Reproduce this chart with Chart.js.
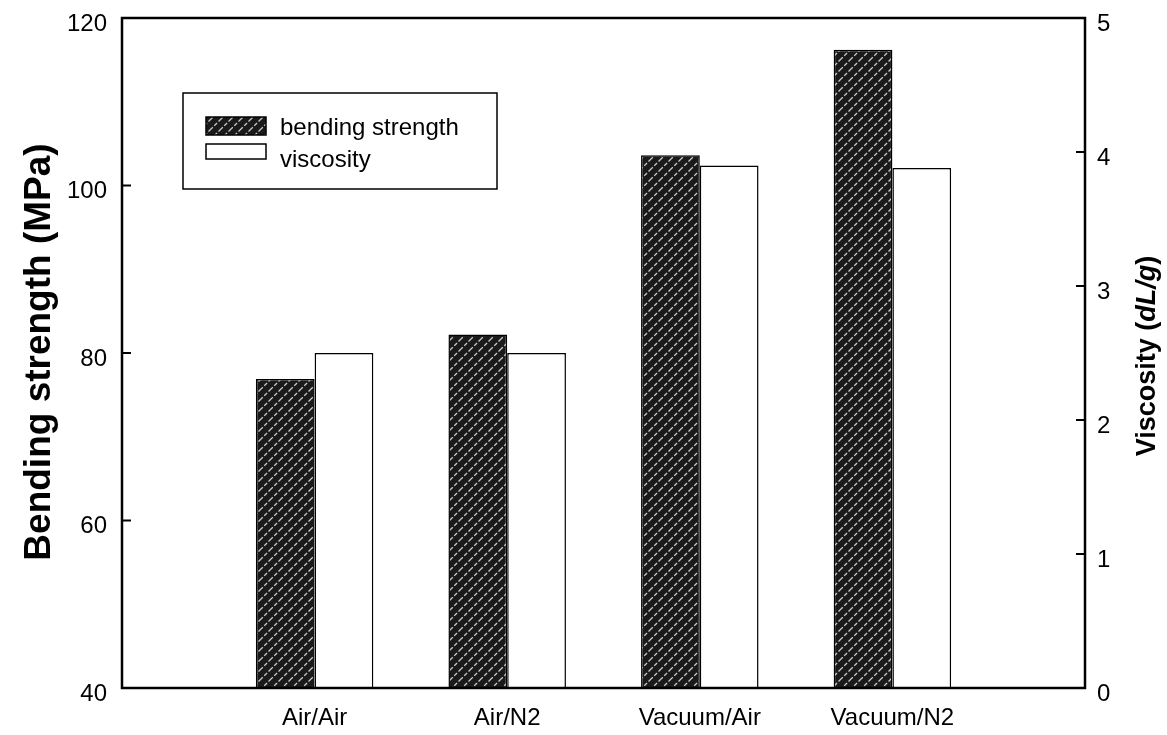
<!DOCTYPE html>
<html>
<head>
<meta charset="utf-8">
<script src="https://cdn.jsdelivr.net/npm/chart.js@4.4.1/dist/chart.umd.min.js"></script>
<style>
  html, body { margin: 0; padding: 0; background: #fff; }
  canvas { display: block; }
</style>
</head>
<body>
<canvas id="chart" width="1167" height="735"></canvas>
<script>
// Drying / annealing atmosphere combinations (empty slots pad both ends of the axis)
const categories = ['', 'Air/Air', 'Air/N2', 'Vacuum/Air', 'Vacuum/N2', ''];
// Bending strength, MPa (left axis)
const bendingStrength = [null, 76.9, 82.2, 103.6, 116.2, null];
// Intrinsic viscosity, dL/g (right axis)
const viscosity = [null, 2.5, 2.5, 3.9, 3.88, null];
// Tick values of both value axes
const strengthTicks = [40, 60, 80, 100, 120];
const viscosityTicks = [0, 1, 2, 3, 4, 5];
const seriesNames = ['bending strength', 'viscosity'];
const leftTitle = 'Bending strength (MPa)';
const rightTitle = ['Viscosity (', 'dL/g', ')'];

const FONT = "'Liberation Sans', Arial, sans-serif";

// Dark fill with light diagonal streaks for the strength bars
function makeHatch() {
  const s = 10;
  const t = document.createElement('canvas');
  t.width = s; t.height = s;
  const g = t.getContext('2d');
  g.fillStyle = '#1a1a1a';
  g.fillRect(0, 0, s, s);
  g.strokeStyle = '#c8c8c8';
  g.lineWidth = 1.3;
  g.setLineDash([4, 2]);
  g.beginPath();
  g.moveTo(0, s); g.lineTo(s, 0);
  g.moveTo(-2, 2); g.lineTo(2, -2);
  g.moveTo(s - 2, s + 2); g.lineTo(s + 2, s - 2);
  g.stroke();
  return g.createPattern(t, 'repeat');
}
const hatch = makeHatch();

// Box frame plus short inward tick marks on both value axes
const framePlugin = {
  id: 'frame',
  afterDatasetsDraw(chart) {
    const { ctx, chartArea: a } = chart;
    ctx.save();
    ctx.strokeStyle = '#000';
    ctx.lineWidth = 2.5;
    ctx.strokeRect(a.left, a.top, a.right - a.left, a.bottom - a.top);
    ctx.lineWidth = 2;
    const yl = chart.scales.y, yr = chart.scales.y1;
    ctx.beginPath();
    yl.ticks.forEach(t => {
      const p = yl.getPixelForValue(t.value);
      ctx.moveTo(a.left, p); ctx.lineTo(a.left + 9, p);
    });
    yr.ticks.forEach(t => {
      const p = yr.getPixelForValue(t.value);
      ctx.moveTo(a.right, p); ctx.lineTo(a.right - 9, p);
    });
    ctx.stroke();
    ctx.restore();
  }
};

// Axis titles (both read bottom-to-top) and the boxed legend
const annotatePlugin = {
  id: 'annotate',
  afterDraw(chart) {
    const { ctx } = chart;
    ctx.save();
    ctx.fillStyle = '#000';
    ctx.textBaseline = 'middle';

    // left title
    ctx.save();
    ctx.translate(40, 352);
    ctx.rotate(-Math.PI / 2);
    ctx.font = 'bold 37px ' + FONT;
    ctx.textAlign = 'center';
    ctx.fillText(leftTitle, 0, 0);
    ctx.restore();

    // right title with italic unit
    ctx.save();
    ctx.translate(1148, 356);
    ctx.rotate(-Math.PI / 2);
    const fonts = ['bold 27px ' + FONT, 'italic bold 27px ' + FONT, 'bold 27px ' + FONT];
    let total = 0;
    const widths = rightTitle.map((s, i) => { ctx.font = fonts[i]; const w = ctx.measureText(s).width; total += w; return w; });
    let x = -total / 2;
    ctx.textAlign = 'left';
    rightTitle.forEach((s, i) => { ctx.font = fonts[i]; ctx.fillText(s, x, 0); x += widths[i]; });
    ctx.restore();

    // legend
    const lx = 183, ly = 93, lw = 314, lh = 96;
    ctx.fillStyle = '#fff';
    ctx.fillRect(lx, ly, lw, lh);
    ctx.strokeStyle = '#000';
    ctx.lineWidth = 1.5;
    ctx.strokeRect(lx, ly, lw, lh);
    const ds = chart.data.datasets;
    ctx.fillStyle = ds[0].backgroundColor;
    ctx.fillRect(206, 117, 60, 18);
    ctx.strokeRect(206, 117, 60, 18);
    ctx.fillStyle = ds[1].backgroundColor;
    ctx.fillRect(206, 144, 60, 15);
    ctx.strokeRect(206, 144, 60, 15);
    ctx.fillStyle = '#000';
    ctx.font = '24px ' + FONT;
    ctx.textAlign = 'left';
    ctx.textBaseline = 'alphabetic';
    ctx.fillText(ds[0].label, 280, 135);
    ctx.fillText(ds[1].label, 280, 167);
    ctx.restore();
  }
};

const tickFont = { family: FONT, size: 24 };

// Keep label overhang from shrinking the plot area
function fixVertical(width) {
  return s => { s.width = width; s.paddingTop = 0; s.paddingBottom = 0; };
}

new Chart(document.getElementById('chart'), {
  type: 'bar',
  data: {
    labels: categories,
    datasets: [
      {
        label: seriesNames[0],
        data: bendingStrength,
        yAxisID: 'y',
        backgroundColor: hatch,
        borderColor: '#000',
        borderWidth: 1.5,
        categoryPercentage: 0.61,
        barPercentage: 1.0
      },
      {
        label: seriesNames[1],
        data: viscosity,
        yAxisID: 'y1',
        backgroundColor: '#ffffff',
        borderColor: '#000',
        borderWidth: 1.5,
        categoryPercentage: 0.61,
        barPercentage: 1.0
      }
    ]
  },
  options: {
    responsive: false,
    animation: false,
    devicePixelRatio: 1,
    layout: { padding: { top: 18, left: 0, right: 0, bottom: 0 } },
    plugins: { legend: { display: false }, tooltip: { enabled: false } },
    scales: {
      x: {
        type: 'category',
        offset: false,
        grid: { display: false, drawTicks: false },
        border: { display: false },
        ticks: { font: tickFont, color: '#000', padding: 16, maxRotation: 0, autoSkip: false },
        afterFit(s) { s.height = 47; s.paddingLeft = 0; s.paddingRight = 0; }
      },
      y: {
        position: 'left',
        min: strengthTicks[0],
        max: strengthTicks[strengthTicks.length - 1],
        grid: { display: false, drawTicks: false },
        border: { display: false },
        ticks: { stepSize: strengthTicks[1] - strengthTicks[0], font: tickFont, color: '#000', padding: 15, labelOffset: 6 },
        afterFit: fixVertical(122)
      },
      y1: {
        position: 'right',
        min: viscosityTicks[0],
        max: viscosityTicks[viscosityTicks.length - 1],
        grid: { display: false, drawTicks: false },
        border: { display: false },
        ticks: { stepSize: viscosityTicks[1] - viscosityTicks[0], font: tickFont, color: '#000', padding: 12, labelOffset: 6 },
        afterFit: fixVertical(82)
      }
    }
  },
  plugins: [framePlugin, annotatePlugin]
});
</script>
</body>
</html>
